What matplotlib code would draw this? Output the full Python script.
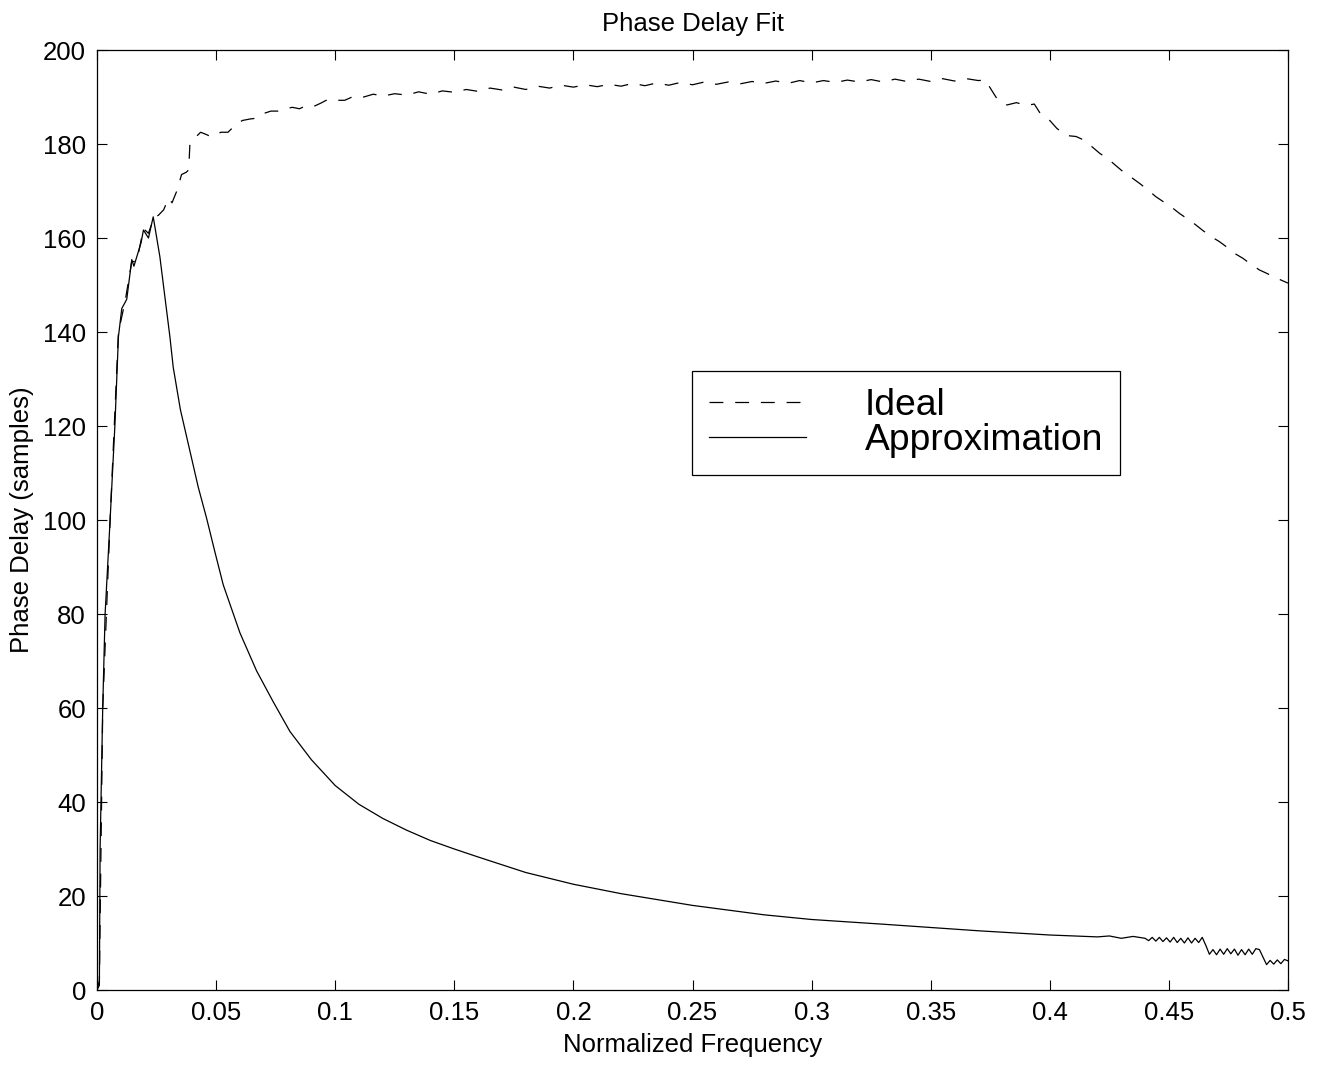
import matplotlib
matplotlib.use('Agg')
import matplotlib.pyplot as plt

# Ideal phase delay (dashed)
freq_ideal = [0, 0.001, 0.0024, 0.0055, 0.009, 0.0118, 0.0146, 0.0167, 0.0195, 0.0216,
              0.024, 0.0257, 0.028, 0.030, 0.0315, 0.0335, 0.0355, 0.0375, 0.0385, 0.039,
              0.0415, 0.0435, 0.046, 0.048, 0.050, 0.052, 0.055, 0.058, 0.061, 0.064,
              0.067, 0.070, 0.073, 0.076, 0.079, 0.082, 0.085, 0.088, 0.091, 0.094,
              0.097, 0.100, 0.104, 0.108, 0.112, 0.116, 0.120, 0.125, 0.130, 0.135,
              0.140, 0.145, 0.150, 0.155, 0.160, 0.165, 0.170, 0.175, 0.180, 0.185,
              0.190, 0.195, 0.200, 0.205, 0.210, 0.215, 0.220, 0.225, 0.230, 0.235,
              0.240, 0.245, 0.250, 0.255, 0.260, 0.265, 0.270, 0.275, 0.280, 0.285,
              0.290, 0.295, 0.300, 0.305, 0.310, 0.315, 0.320, 0.325, 0.330, 0.335,
              0.340, 0.345, 0.350, 0.355, 0.360, 0.365, 0.370, 0.373, 0.3755, 0.378,
              0.382, 0.386, 0.390, 0.3935, 0.396, 0.400, 0.403, 0.407, 0.411, 0.4145,
              0.418, 0.421, 0.4245, 0.428, 0.431, 0.4345, 0.438, 0.441, 0.4445, 0.448,
              0.451, 0.4545, 0.458, 0.461, 0.4645, 0.468, 0.471, 0.4745, 0.478, 0.481,
              0.4845, 0.488, 0.491, 0.4955, 0.5]
ideal = [0, 2, 60, 100, 140, 146.5, 155, 155, 162, 161,
         164.5, 164.8, 166, 168.5, 167.5, 170, 173.5, 174, 174.5, 180,
         181.5, 182.5, 182, 181.5, 182, 182.5, 182.5, 184, 185, 185.3,
         185.5, 186.5, 187, 187, 187.5, 187.8, 187.5, 188.2, 188, 188.7,
         189.5, 189.3, 189.3, 190.2, 190, 190.6, 190.2, 190.7, 190.4, 191.1,
         190.6, 191.3, 191, 191.6, 191.2, 191.9, 191.5, 192.1, 191.6, 192.3,
         191.9, 192.5, 192.1, 192.6, 192.2, 192.7, 192.3, 192.9, 192.4, 193,
         192.5, 193.1, 192.6, 193.2, 192.7, 193.2, 192.8, 193.3, 192.9, 193.4,
         192.9, 193.5, 193, 193.5, 193.1, 193.6, 193.2, 193.7, 193.2, 193.8,
         193.3, 193.8, 193.3, 193.9, 193.4, 193.9, 193.5, 193.6, 191.5, 189.5,
         188.3, 188.8, 188.2, 188.5, 186.5, 185, 183.3, 181.8, 181.6, 180.8,
         179.3, 178, 176.8, 175.3, 174, 172.8, 171.5, 170.3, 168.8, 167.6,
         166.6, 165.2, 164, 162.9, 161.5, 160.2, 159.3, 158, 156.6, 155.7,
         154.4, 153.2, 152.5, 151.4, 150.4]

# Approximation (solid)
freq_approx = [0, 0.001, 0.0013, 0.0024, 0.0034, 0.0055, 0.0075, 0.009, 0.0104, 0.0118,
               0.0125, 0.0146, 0.0155, 0.0167, 0.0185, 0.0195, 0.0216, 0.0236, 0.0264, 0.028,
               0.0306, 0.032, 0.035, 0.039, 0.0425, 0.046, 0.0495, 0.053, 0.060, 0.067,
               0.074, 0.081, 0.09, 0.1, 0.11, 0.12, 0.13, 0.14, 0.15, 0.16,
               0.18, 0.2, 0.22, 0.25, 0.28, 0.3, 0.33, 0.35, 0.37, 0.39,
               0.4, 0.41, 0.42, 0.425, 0.43, 0.435,
               0.440, 0.4415, 0.443, 0.4445, 0.446, 0.4475, 0.449, 0.4505, 0.452, 0.4535,
               0.455, 0.4565, 0.458, 0.4595, 0.461, 0.4625, 0.464, 0.4655, 0.467, 0.4685,
               0.470, 0.4715, 0.473, 0.4745, 0.476, 0.4775, 0.479, 0.4805, 0.482, 0.4835,
               0.485, 0.4865, 0.488, 0.4895, 0.491, 0.4925, 0.494, 0.4955, 0.497, 0.4985,
               0.500]
approx = [0, 1, 30, 60, 80, 100, 120, 139, 145, 146.3,
          147, 155.4, 154, 156, 159, 161.7, 160, 164.5, 156, 149.5,
          139, 132.5, 123.5, 114.7, 107, 100.4, 93.2, 86.2, 76, 67.9,
          61.3, 55, 49, 43.5, 39.5, 36.5, 34, 31.8, 30, 28.3,
          25, 22.5, 20.5, 18, 16, 15, 14, 13.3, 12.6, 12.0,
          11.7, 11.5, 11.3, 11.5, 11.0, 11.4,
          11.0, 10.5, 11.2, 10.4, 11.2, 10.3, 11.1, 10.2, 11.2, 10.1,
          11.0, 10.0, 11.1, 10.0, 11.0, 10.1, 11.2, 9.5, 7.6, 8.6,
          7.5, 8.7, 7.6, 8.8, 7.7, 8.7, 7.4, 8.6, 7.5, 8.7,
          7.6, 8.8, 8.6, 7.0, 5.4, 6.3, 5.5, 6.4, 5.6, 6.5,
          6.2]

xticks = [0, 0.05, 0.1, 0.15, 0.2, 0.25, 0.3, 0.35, 0.4, 0.45, 0.5]
xticklabels = ['0', '0.05', '0.1', '0.15', '0.2', '0.25', '0.3', '0.35', '0.4', '0.45', '0.5']
yticks = [0, 20, 40, 60, 80, 100, 120, 140, 160, 180, 200]

plt.rcParams['font.family'] = ['Liberation Sans', 'DejaVu Sans']
plt.rcParams['lines.scale_dashes'] = False

fig = plt.figure(figsize=(13.25, 10.65), dpi=100)
ax = fig.add_axes([97/1325, 1 - 990/1065, (1288-97)/1325, (990-50)/1065])

ax.plot(freq_ideal, ideal, color='k', lw=0.9, linestyle=(0, (10, 8.5)), label='Ideal')
ax.plot(freq_approx, approx, color='k', lw=0.9, label='Approximation')

ax.set_xlim(0, 0.5)
ax.set_ylim(0, 200)
ax.set_xticks(xticks)
ax.set_xticklabels(xticklabels)
ax.set_yticks(yticks)
ax.tick_params(direction='in', length=7, width=0.8, labelsize=18.5, pad=8,
               top=True, right=True)
for s in ax.spines.values():
    s.set_linewidth(0.9)

ax.set_title('Phase Delay Fit', fontsize=18.5, pad=13.5)
ax.set_xlabel('Normalized Frequency', fontsize=18.5, labelpad=6)
ax.set_ylabel('Phase Delay (samples)', fontsize=18.5, labelpad=6)

leg = ax.legend(loc='upper left', bbox_to_anchor=(0.4996, 0.6585), fontsize=26.8,
                frameon=True, fancybox=False, edgecolor='k', framealpha=1,
                handlelength=2.6, handletextpad=1.6, labelspacing=0.0,
                borderpad=0.45, borderaxespad=0)
leg.get_frame().set_linewidth(0.9)

fig.savefig('out.png', dpi=100)
